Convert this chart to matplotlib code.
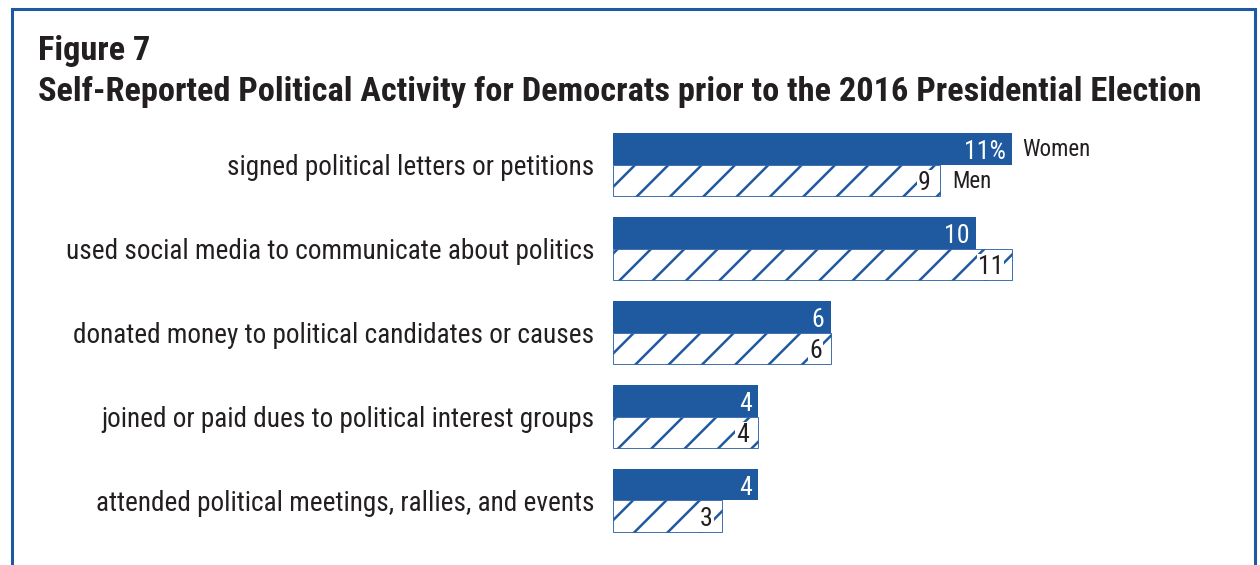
import matplotlib
matplotlib.use("Agg")
import matplotlib.pyplot as plt
from matplotlib.lines import Line2D
import numpy as np

activities = [
    "signed political letters or petitions",
    "used social media to communicate about politics",
    "donated money to political candidates or causes",
    "joined or paid dues to political interest groups",
    "attended political meetings, rallies, and events",
]
women = [11, 10, 6, 4, 4]
men = [9, 11, 6, 4, 3]

BLUE = "#1f5aa0"
TEXT = "#231f20"

plt.rcParams["font.family"] = ["Roboto Condensed", "Fira Sans Condensed",
                               "Liberation Sans", "DejaVu Sans"]
plt.rcParams["hatch.linewidth"] = 0.9

fig = plt.figure(figsize=(6.3, 2.825), dpi=200)
ax = fig.add_axes([0.4865, 0.0265, 0.5056, 0.761])

pos = np.arange(len(activities))
h = 0.38
ax.barh(pos - h / 2, women, height=h, color=BLUE, edgecolor="none")
ax.barh(pos + h / 2, men, height=h, facecolor="white", edgecolor=BLUE,
        linewidth=0.3, hatch="//")

for i, (w, m) in enumerate(zip(women, men)):
    wlabel = f"{w}%" if i == 0 else f"{w}"
    ax.annotate(wlabel, (w, i - h / 2), xytext=(-2.3, -1.1), textcoords="offset points",
                ha="right", va="center", color="white", fontsize=9.3)
    ax.annotate(f"{m}", (m, i + h / 2), xytext=(-3.2, -0.9), textcoords="offset points",
                ha="right", va="center", color=TEXT, fontsize=9.3,
                bbox=dict(facecolor="white", edgecolor="none", pad=0.4))

# series names next to the first pair of bars
ax.annotate("Women", (women[0], -h / 2), xytext=(3.6, -0.3), textcoords="offset points",
            ha="left", va="center", color=TEXT, fontsize=8.3)
ax.annotate("Men", (men[0], h / 2), xytext=(4.7, -0.3), textcoords="offset points",
            ha="left", va="center", color=TEXT, fontsize=8.3)

ax.set_xlim(0, 17.55)
ax.set_ylim(4.59, -0.53)
ax.set_yticks(pos)
ax.set_yticklabels(activities, fontsize=9.8, color=TEXT)
ax.tick_params(axis="y", length=0, pad=6.8)
ax.set_xticks([])
for s in ax.spines.values():
    s.set_visible(False)

fig.text(0.0302, 0.894, "Figure 7", fontsize=12.4, fontweight="bold",
         color=TEXT, va="baseline")
fig.text(0.0302, 0.821,
         "Self-Reported Political Activity for Democrats prior to the 2016 Presidential Election",
         fontsize=12.4, fontweight="bold", color=TEXT, va="baseline")

# frame around the figure (open at the bottom)
W, H = 1260, 565
xl, xr, yt = 11.5 / W, 1254.5 / W, 1 - 8.5 / H
fig.add_artist(Line2D([xl, xl, xr, xr], [0, yt, yt, 0], transform=fig.transFigure,
                      color=BLUE, linewidth=1.1, solid_joinstyle="miter"))

fig.savefig("out.png", dpi=200)
